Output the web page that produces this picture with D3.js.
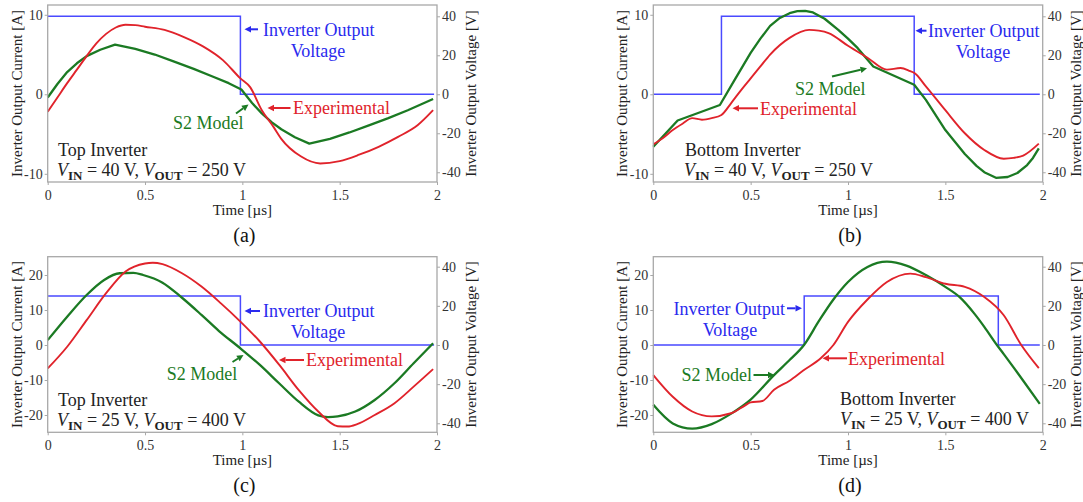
<!DOCTYPE html>
<html><head><meta charset="utf-8">
<script src="https://cdn.jsdelivr.net/npm/d3@7"></script>
<style>
body{margin:0;background:#fff;}
svg text{font-family:"Liberation Serif","Times New Roman",Times,serif;}
</style></head><body>
<svg id="chart" width="1083" height="502"></svg>
<script>
// ---------- data ----------
const timeTicks = [0, 0.5, 1, 1.5, 2];
const currentTicksLow = [-10, 0, 10];
const currentTicksHigh = [-20, -10, 0, 10, 20];
const voltageTicks = [-40, -20, 0, 20, 40];
const panelLabels = ["(a)", "(b)", "(c)", "(d)"];
const inverterNames = ["Top Inverter", "Bottom Inverter", "Top Inverter", "Bottom Inverter"];
const inputVoltages = [40, 40, 25, 25];
const outputVoltages = [250, 250, 400, 400];

// inverter output voltage (step, value holds until next point)
const aVoltage = [[0, 40], [0.99, 0], [1.985, 0]];
const bVoltage = [[0, 0], [0.35, 40], [1.34, 0], [1.985, 0]];
const cVoltage = [[0, 25], [0.99, 0], [1.985, 0]];
const dVoltage = [[0, 0], [0.775, 25], [1.772, 0], [1.985, 0]];

// S2 model current [A]
const aModel = [[0,-0.4],[0.05,1.3],[0.1,2.8],[0.15,3.9],[0.2,4.8],[0.27,5.6],[0.346,6.25],[0.45,5.7],[0.55,5.0],[0.65,4.1],[0.75,3.2],[0.85,2.2],[0.93,1.4],[0.995,0.6],[1.05,-1.1],[1.1,-2.4],[1.15,-3.5],[1.2,-4.4],[1.27,-5.4],[1.344,-6.2],[1.45,-5.6],[1.55,-4.8],[1.65,-3.9],[1.75,-3.0],[1.85,-2.0],[1.98,-0.6]];
const bModel = [[0,-6.6],[0.125,-3.3],[0.342,-1.35],[0.42,1.9],[0.5,5.2],[0.55,7.0],[0.6,8.6],[0.65,9.6],[0.7,10.2],[0.74,10.45],[0.78,10.5],[0.82,10.3],[0.88,9.5],[0.95,8.1],[1.0,7.0],[1.05,5.8],[1.13,3.5],[1.34,1.2],[1.4,-0.7],[1.5,-4.5],[1.6,-7.5],[1.66,-9.0],[1.7,-9.8],[1.76,-10.5],[1.82,-10.4],[1.87,-9.9],[1.92,-8.9],[1.95,-8.0],[1.98,-6.8]];
const cModel = [[0,1.4],[0.1,8.1],[0.2,14.3],[0.29,18.6],[0.37,20.5],[0.44,20.6],[0.49,20],[0.59,17.8],[0.69,13.5],[0.79,8.6],[0.88,4.0],[0.98,-0.5],[1.09,-5.7],[1.19,-11],[1.29,-16.2],[1.39,-20.1],[1.44,-20.6],[1.49,-20.4],[1.58,-19],[1.68,-15.7],[1.78,-11],[1.88,-5.2],[1.98,0.5]];
const dModel = [[0,-17.1],[0.1,-22.4],[0.2,-23.9],[0.3,-22.6],[0.4,-19.6],[0.5,-15.6],[0.62,-8.6],[0.7,-4.3],[0.774,0],[0.85,6.8],[0.925,13.0],[1.0,18.0],[1.1,22.3],[1.2,23.8],[1.3,22.7],[1.4,20.0],[1.5,16.6],[1.575,13.6],[1.65,8.9],[1.7,5.2],[1.765,0],[1.8,-2.6],[1.9,-10.2],[1.985,-16.8]];

// experimental current [A]
const aExperimental = [[0,-2.2],[0.05,-0.4],[0.1,1.4],[0.15,3.1],[0.2,4.8],[0.25,6.4],[0.3,7.6],[0.35,8.4],[0.4,8.75],[0.45,8.7],[0.5,8.5],[0.6,8.1],[0.7,7.2],[0.8,6.0],[0.9,4.3],[0.99,2.0],[1.04,0.9],[1.1,-2.0],[1.16,-4.1],[1.2,-5.6],[1.3,-7.8],[1.4,-8.7],[1.5,-8.4],[1.6,-7.6],[1.7,-6.6],[1.8,-5.35],[1.9,-3.9],[1.98,-2.0]];
const bExperimental = [[0,-6.3],[0.05,-5.5],[0.1,-4.5],[0.15,-3.7],[0.2,-3.0],[0.25,-3.2],[0.3,-3.0],[0.35,-2.6],[0.4,-1.1],[0.45,0.5],[0.5,2.0],[0.55,3.5],[0.6,5.0],[0.7,7.1],[0.8,8.1],[0.85,8.0],[0.9,7.7],[1.0,6.1],[1.1,4.6],[1.2,3.1],[1.27,3.3],[1.32,2.9],[1.34,2.7],[1.4,1.0],[1.5,-2.0],[1.6,-4.9],[1.7,-7.0],[1.8,-8.1],[1.85,-8.0],[1.9,-7.7],[1.98,-6.2]];
const cExperimental = [[0,-6.7],[0.1,-0.5],[0.2,7.1],[0.3,14.8],[0.4,21],[0.5,23.3],[0.54,23.5],[0.59,23.1],[0.69,20.5],[0.79,16.7],[0.89,11.9],[0.99,6.7],[1.09,1.0],[1.19,-5.7],[1.29,-12.9],[1.39,-19],[1.49,-23.2],[1.54,-23.3],[1.59,-22.6],[1.68,-20],[1.78,-16.7],[1.88,-11.9],[1.98,-6.9]];
const dExperimental = [[0,-8.6],[0.1,-14.8],[0.2,-19],[0.3,-20.4],[0.4,-19.5],[0.47,-17.3],[0.5,-16.4],[0.56,-16.0],[0.62,-12.8],[0.7,-10.2],[0.77,-7.3],[0.86,-3.8],[0.925,0],[1.0,6.6],[1.1,13.0],[1.2,18.0],[1.32,20.4],[1.4,19.4],[1.5,17.5],[1.6,16.6],[1.7,13.7],[1.8,8.5],[1.89,0],[1.98,-6.6]];

// ---------- styling ----------
const BLUE_LINE = "#4a4aff", BLUE_TXT = "#2a2aee";
const RED = "#e0232b", GREEN = "#1b7a23";
const FRAME = "#a8a8a8", TICKTXT = "#333", TITLE = "#222";

const svg = d3.select("#chart");

const panels = [
  {left:47.7, right:437, top:5, bottom:182, iDomain:[-11.03,11.23], vDomain:[-45,45.8], iTicks:currentTicksLow,
   volt:aVoltage, model:aModel, exp:aExperimental, modelCurve:d3.curveLinear},
  {left:653.3, right:1042.7, top:5, bottom:182, iDomain:[-11.03,11.23], vDomain:[-45,45.8], iTicks:currentTicksLow,
   volt:bVoltage, model:bModel, exp:bExperimental, modelCurve:d3.curveLinear},
  {left:47.7, right:437, top:256.7, bottom:432.3, iDomain:[-24.94,25.23], vDomain:[-44.6,45.1], iTicks:currentTicksHigh,
   volt:cVoltage, model:cModel, exp:cExperimental, modelCurve:d3.curveMonotoneX},
  {left:653.3, right:1042.7, top:256.7, bottom:432.3, iDomain:[-24.94,25.23], vDomain:[-44.6,45.1], iTicks:currentTicksHigh,
   volt:dVoltage, model:dModel, exp:dExperimental, modelCurve:d3.curveMonotoneX}
];

// annotation layout (pixel placement of labels/arrows)
const annotations = [
  {io:{x:263,y:35.5,anchor:"start"}, volt:{x:318,y:56.5}, ioArrow:[258,29.3,244.5,29.3],
   ex:{x:293,y:114}, exArrow:[290.5,108,267.5,108],
   s2:{x:173,y:129}, s2Arrow:[236,113.5,248.5,104.5],
   name:{x:58,y:156}, vline:{x:57,y:175.5}},
  {io:{x:928,y:37,anchor:"start"}, volt:{x:983,y:58}, ioArrow:[926.5,30.7,915.5,30.7],
   ex:{x:760,y:114.5}, exArrow:[758,108.3,732.5,108.3],
   s2:{x:795,y:94.5}, s2Arrow:[832,76.5,867,68.3],
   name:{x:685,y:156}, vline:{x:684,y:175.5}},
  {io:{x:263,y:317,anchor:"start"}, volt:{x:318,y:338}, ioArrow:[260,311,244.5,311],
   ex:{x:306,y:366}, exArrow:[304,360,279,360],
   s2:{x:166.7,y:380}, s2Arrow:[232.5,362,243.5,355],
   name:{x:58,y:405.5}, vline:{x:57,y:426}},
  {io:{x:785,y:314.5,anchor:"end"}, volt:{x:730,y:336}, ioArrow:[787,308.3,802,308.3],
   ex:{x:848,y:364.5}, exArrow:[847,358.3,822.5,358.3],
   s2:{x:752,y:381,anchor:"end"}, s2Arrow:[753.5,375,774.5,375],
   name:{x:840,y:405}, vline:{x:840,y:425}}
];

function arrow(g, a, color) {
  const [x1,y1,x2,y2] = a;
  const ang = Math.atan2(y2-y1, x2-x1);
  const L = 6.5, W = 3.2;
  const bx = x2 - L*Math.cos(ang), by = y2 - L*Math.sin(ang);
  g.append("line").attr("x1",x1).attr("y1",y1).attr("x2",bx).attr("y2",by)
    .attr("stroke",color).attr("stroke-width",2);
  const px = -Math.sin(ang)*W, py = Math.cos(ang)*W;
  g.append("path").attr("d",`M${x2},${y2}L${bx+px},${by+py}L${bx-px},${by-py}Z`).attr("fill",color);
}

panels.forEach((p, k) => {
  const g = svg.append("g");
  const x = d3.scaleLinear().domain([0,2]).range([p.left, p.right]);
  const yI = d3.scaleLinear().domain(p.iDomain).range([p.bottom, p.top]);
  const yV = d3.scaleLinear().domain(p.vDomain).range([p.bottom, p.top]);

  // axes
  const ax = g.append("g").attr("transform",`translate(0,${p.bottom})`)
    .call(d3.axisBottom(x).tickValues(timeTicks).tickSize(3).tickPadding(5).tickFormat(d3.format("")));
  const ay = g.append("g").attr("transform",`translate(${p.left},0)`)
    .call(d3.axisLeft(yI).tickValues(p.iTicks).tickSize(3).tickPadding(2).tickFormat(d => d));
  const ayr = g.append("g").attr("transform",`translate(${p.right},0)`)
    .call(d3.axisRight(yV).tickValues(voltageTicks).tickSize(3).tickPadding(2).tickFormat(d => d));
  [ax, ay, ayr].forEach(a => {
    a.select(".domain").remove();
    a.selectAll(".tick line").attr("stroke", FRAME);
    a.selectAll(".tick text").attr("fill", TICKTXT).attr("font-size", 14)
      .attr("font-family",'"Liberation Serif","Times New Roman",serif');
  });

  // data lines
  g.append("path").datum(p.volt)
    .attr("d", d3.line().x(d => x(d[0])).y(d => yV(d[1])).curve(d3.curveStepAfter))
    .attr("fill","none").attr("stroke",BLUE_LINE).attr("stroke-width",1.5);
  g.append("path").datum(p.model)
    .attr("d", d3.line().x(d => x(d[0])).y(d => yI(d[1])).curve(p.modelCurve))
    .attr("fill","none").attr("stroke",GREEN).attr("stroke-width",2.3).attr("stroke-linejoin","round");
  g.append("path").datum(p.exp)
    .attr("d", d3.line().x(d => x(d[0])).y(d => yI(d[1])).curve(d3.curveMonotoneX))
    .attr("fill","none").attr("stroke",RED).attr("stroke-width",1.9).attr("stroke-linejoin","round");

  // frame
  g.append("rect").attr("x",p.left).attr("y",p.top).attr("width",p.right-p.left).attr("height",p.bottom-p.top)
    .attr("fill","none").attr("stroke",FRAME).attr("stroke-width",1.3);

  // axis titles
  const cx = (p.left + p.right) / 2, cy = (p.top + p.bottom) / 2;
  g.append("text").attr("x",cx).attr("y",p.bottom+33).attr("text-anchor","middle")
    .attr("font-size",15).attr("fill",TITLE).text("Time [µs]");
  g.append("text").attr("transform",`translate(${p.left-31},${cy}) rotate(-90)`).attr("text-anchor","middle")
    .attr("dominant-baseline","central").attr("font-size",15).attr("fill",TITLE).text("Inverter Output Current [A]");
  g.append("text").attr("transform",`translate(${p.right+33.5},${cy}) rotate(-90)`).attr("text-anchor","middle")
    .attr("dominant-baseline","central").attr("font-size",15).attr("fill",TITLE).text("Inverter Output Voltage [V]");
  g.append("text").attr("x",cx+2).attr("y",p.bottom+59.5).attr("text-anchor","middle")
    .attr("font-size",20).attr("fill","#111").text(panelLabels[k]);

  // annotations
  const a = annotations[k];
  g.append("text").attr("x",a.io.x).attr("y",a.io.y).attr("text-anchor",a.io.anchor)
    .attr("font-size",18).attr("fill",BLUE_TXT).text("Inverter Output");
  g.append("text").attr("x",a.volt.x).attr("y",a.volt.y).attr("text-anchor","middle")
    .attr("font-size",18).attr("fill",BLUE_TXT).text("Voltage");
  arrow(g, a.ioArrow, BLUE_TXT);
  g.append("text").attr("x",a.ex.x).attr("y",a.ex.y).attr("font-size",18).attr("fill",RED).text("Experimental");
  arrow(g, a.exArrow, RED);
  g.append("text").attr("x",a.s2.x).attr("y",a.s2.y).attr("text-anchor",a.s2.anchor || "start")
    .attr("font-size",18).attr("fill",GREEN).text("S2 Model");
  arrow(g, a.s2Arrow, GREEN);
  g.append("text").attr("x",a.name.x).attr("y",a.name.y).attr("font-size",18).attr("fill","#222").text(inverterNames[k]);
  const t = g.append("text").attr("x",a.vline.x).attr("y",a.vline.y).attr("font-size",18).attr("fill","#222");
  t.append("tspan").attr("font-style","italic").text("V");
  t.append("tspan").attr("font-size",13).attr("font-weight","bold").attr("dy",4).text("IN");
  t.append("tspan").attr("dy",-4).text(` = ${inputVoltages[k]} V, `);
  t.append("tspan").attr("font-style","italic").text("V");
  t.append("tspan").attr("font-size",13).attr("font-weight","bold").attr("dy",4).text("OUT");
  t.append("tspan").attr("dy",-4).text(` = ${outputVoltages[k]} V`);
});
</script>
</body></html>
